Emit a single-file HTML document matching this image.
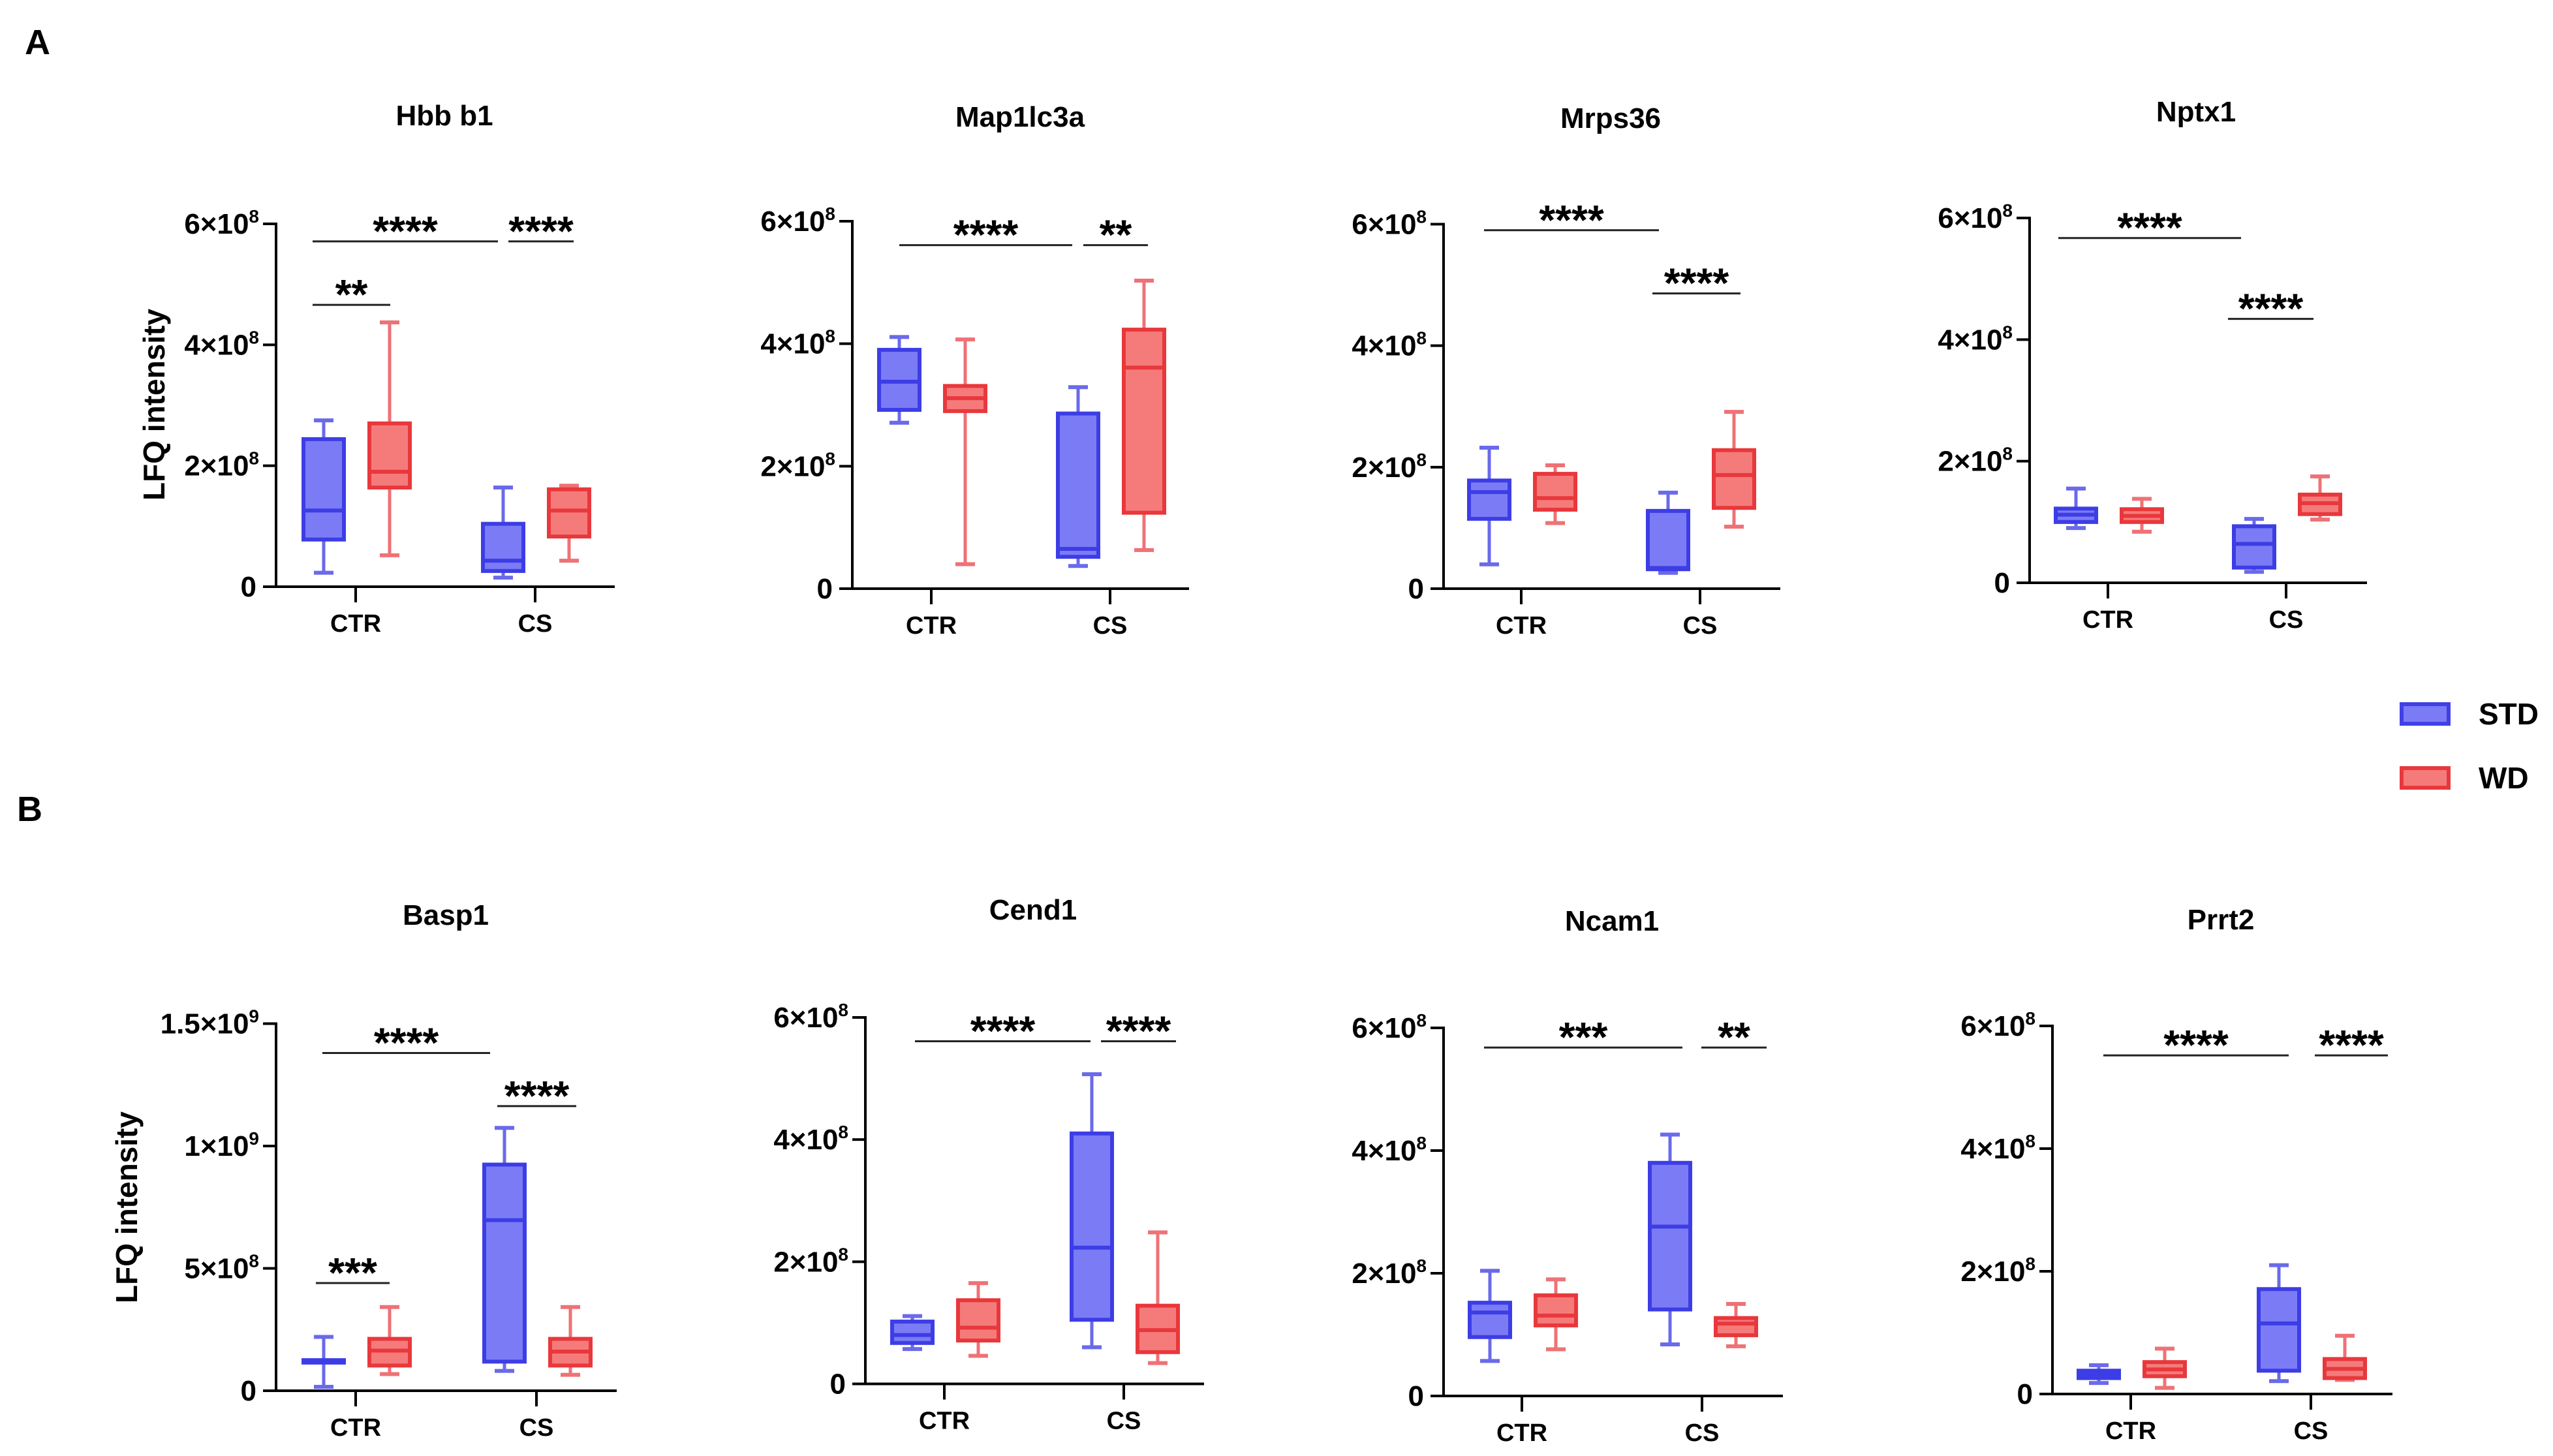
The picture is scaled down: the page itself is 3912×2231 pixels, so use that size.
<!DOCTYPE html>
<html><head><meta charset="utf-8"><style>
html,body{margin:0;padding:0;background:#fff;}
svg{display:block;font-family:"Liberation Sans",Arial,sans-serif;}
</style></head><body>
<svg id="fig" width="3912" height="2231" viewBox="0 0 3912 2231" xmlns="http://www.w3.org/2000/svg">
<rect width="3912" height="2231" fill="#fff"/>
<text x="38" y="83" font-size="54" font-weight="bold">A</text>
<text x="26" y="1258" font-size="54" font-weight="bold">B</text>
<text transform="translate(252,620) rotate(-90)" text-anchor="middle" font-size="46" font-weight="bold">LFQ intensity</text>
<text transform="translate(210,1850) rotate(-90)" text-anchor="middle" font-size="46" font-weight="bold">LFQ intensity</text>
<g>
<rect x="3680" y="1079" width="72" height="30" fill="#7b7bf5" stroke="#4040e6" stroke-width="6"/>
<text x="3798" y="1110" font-size="46" font-weight="bold">STD</text>
<rect x="3680" y="1177" width="72" height="30" fill="#f57b7b" stroke="#e8383c" stroke-width="6"/>
<text x="3798" y="1208" font-size="46" font-weight="bold">WD</text>
</g>
</svg>
<script>
// values in units of 1e8; each box: [min, q1, median, q3, max]; order [CTR, CS]
const categories = ["CTR", "CS"];
const groups = ["STD", "WD"];
const hbbStd = [[0.23,0.78,1.26,2.44,2.75],[0.15,0.26,0.43,1.04,1.64]];
const hbbWd  = [[0.52,1.64,1.90,2.70,4.37],[0.43,0.83,1.26,1.61,1.67]];
const mapStd = [[2.71,2.92,3.38,3.90,4.11],[0.37,0.52,0.65,2.86,3.29]];
const mapWd  = [[0.40,2.90,3.11,3.31,4.07],[0.63,1.24,3.61,4.23,5.03]];
const mrpStd = [[0.40,1.15,1.59,1.78,2.32],[0.26,0.32,0.34,1.28,1.58]];
const mrpWd  = [[1.08,1.30,1.49,1.89,2.03],[1.02,1.33,1.87,2.28,2.91]];
const nptStd = [[0.90,1.00,1.12,1.22,1.55],[0.18,0.25,0.64,0.93,1.05]];
const nptWd  = [[0.84,1.00,1.10,1.21,1.38],[1.04,1.13,1.31,1.45,1.75]];
const baspStd = [[0.16,1.15,1.20,1.25,2.20],[0.81,1.19,6.97,9.24,10.74]];
const baspWd  = [[0.68,1.03,1.64,2.12,3.42],[0.65,1.03,1.60,2.12,3.42]];
const cendStd = [[0.57,0.67,0.80,1.02,1.11],[0.60,1.05,2.23,4.10,5.07]];
const cendWd  = [[0.46,0.71,0.92,1.37,1.65],[0.34,0.52,0.88,1.28,2.48]];
const ncamStd = [[0.57,0.96,1.36,1.52,2.04],[0.84,1.41,2.76,3.80,4.26]];
const ncamWd  = [[0.76,1.15,1.31,1.64,1.90],[0.81,0.99,1.18,1.27,1.50]];
const prrtStd = [[0.18,0.26,0.32,0.38,0.47],[0.21,0.38,1.15,1.71,2.10]];
const prrtWd  = [[0.10,0.29,0.40,0.52,0.74],[0.23,0.26,0.41,0.57,0.95]];
const ticks6 = [0,2,4,6];
const tickLabels6 = [["0",""],["2×10","8"],["4×10","8"],["6×10","8"]];
const ticks15 = [0,5,10,15];
const tickLabels15 = [["0",""],["5×10","8"],["1×10","9"],["1.5×10","9"]];
const sigHeights = {hbb:[5.71,5.71,4.66], map:[5.61,5.61], mrp:[5.9,4.86], npt:[5.67,4.34], basp:[13.8,11.63,4.4], cend:[5.61,5.61], ncam:[5.68,5.68], prrt:[5.52,5.52]};
const sigLabels = {hbb:["****","****","**"], map:["****","**"], mrp:["****","****"], npt:["****","****"], basp:["****","****","***"], cend:["****","****"], ncam:["***","**"], prrt:["****","****"]};

const panels = [
 {id:"hbb",title:"Hbb b1",std:hbbStd,wd:hbbWd,ax:423,yt:343,y0:899,cx:[545,820],xe:942,tx:681,ty:176,max:6,ticks:ticks6,tl:tickLabels6,sx:[[479,763],[779,879],[479,598]]},
 {id:"map",title:"Map1lc3a",std:mapStd,wd:mapWd,ax:1306,yt:339,y0:902,cx:[1427,1701],xe:1822,tx:1563,ty:178,max:6,ticks:ticks6,tl:tickLabels6,sx:[[1378,1643],[1660,1759]]},
 {id:"mrp",title:"Mrps36",std:mrpStd,wd:mrpWd,ax:2212,yt:343.5,y0:902,cx:[2331,2605],xe:2728,tx:2468,ty:180,max:6,ticks:ticks6,tl:tickLabels6,sx:[[2274,2542],[2532,2667]]},
 {id:"npt",title:"Nptx1",std:nptStd,wd:nptWd,ax:3110,yt:334,y0:893,cx:[3230,3503],xe:3627,tx:3365,ty:170,max:6,ticks:ticks6,tl:tickLabels6,sx:[[3154,3434],[3414,3545]]},
 {id:"basp",title:"Basp1",std:baspStd,wd:baspWd,ax:423,yt:1568.5,y0:2131,cx:[545,822],xe:945,tx:683,ty:1401,max:15,ticks:ticks15,tl:tickLabels15,sx:[[494,751],[762,883],[484,597]]},
 {id:"cend",title:"Cend1",std:cendStd,wd:cendWd,ax:1326,yt:1559,y0:2120.5,cx:[1447,1722],xe:1845,tx:1583,ty:1393,max:6,ticks:ticks6,tl:tickLabels6,sx:[[1402,1671],[1687,1802]]},
 {id:"ncam",title:"Ncam1",std:ncamStd,wd:ncamWd,ax:2212,yt:1575,y0:2139,cx:[2332,2608],xe:2732,tx:2470,ty:1410,max:6,ticks:ticks6,tl:tickLabels6,sx:[[2274,2578],[2607,2707]]},
 {id:"prrt",title:"Prrt2",std:prrtStd,wd:prrtWd,ax:3145,yt:1572,y0:2136,cx:[3265,3541],xe:3666,tx:3403,ty:1408,max:6,ticks:ticks6,tl:tickLabels6,sx:[[3223,3507],[3547,3659]]}
];
const NS="http://www.w3.org/2000/svg";
const svg=document.getElementById('fig');
function mk(tag,attrs,parent){const e=document.createElementNS(NS,tag);for(const k in attrs)e.setAttribute(k,attrs[k]);parent.appendChild(e);return e;}
const styles={STD:{fill:"#7b7bf5",stroke:"#3d3de6",wh:"#6a6aea"},WD:{fill:"#f57b7b",stroke:"#e8383c",wh:"#ee7276"}};
panels.forEach(p=>{
  const g=mk('g',{},svg);
  
  
  const y=v=>p.y0-(v/p.max)*(p.y0-p.yt);
  const t=mk('text',{x:p.tx,y:p.ty+16,'text-anchor':'middle','font-size':44,'font-weight':'bold'},g);
  t.textContent=p.title;
  
  
  const ya=mk('line',{x1:p.ax,y1:p.yt-2,x2:p.ax,y2:p.y0+2,stroke:'#000','stroke-width':4},g);
  
  
  const xa=mk('line',{x1:p.ax-20,y1:p.y0,x2:p.xe,y2:p.y0,stroke:'#000','stroke-width':4},g);
  
  
  p.ticks.forEach((v,i)=>{
    const yy=y(v);
    if(i>0) mk('line',{x1:p.ax-20,y1:yy,x2:p.ax,y2:yy,stroke:'#000','stroke-width':4},g);
    const tx=mk('text',{x:p.ax-26,y:yy+15,'text-anchor':'end','font-size':44,'font-weight':'bold'},g);
    
    
    if(p.tl[i][1]){
      const t1=document.createElementNS(NS,'tspan');t1.textContent=p.tl[i][0];tx.appendChild(t1);
      const t2=document.createElementNS(NS,'tspan');t2.setAttribute('dy','-17');t2.setAttribute('font-size','28');t2.textContent=p.tl[i][1];tx.appendChild(t2);
    } else { tx.textContent=p.tl[i][0]; tx.setAttribute('x',p.ax-30); }
  });
  categories.forEach((c,ci)=>{
    const cx=p.cx[ci];
    mk('line',{x1:cx,y1:p.y0,x2:cx,y2:p.y0+24,stroke:'#000','stroke-width':4},g);
    const cl=mk('text',{x:cx,y:p.y0+69,'text-anchor':'middle','font-size':38,'font-weight':'bold'},g);
    cl.textContent=c;
    
    
    groups.forEach((gr,gi)=>{
      const d=(gr==="STD"?p.std:p.wd)[ci];
      const s=styles[gr];
      const bx=cx+(gi===0?-49:52);
      const bg=mk('g',{},g);
      
      
      mk('line',{x1:bx,y1:y(d[0]),x2:bx,y2:y(d[1]),stroke:s.wh,'stroke-width':5},bg);
      mk('line',{x1:bx,y1:y(d[3]),x2:bx,y2:y(d[4]),stroke:s.wh,'stroke-width':5},bg);
      mk('line',{x1:bx-15,y1:y(d[0]),x2:bx+15,y2:y(d[0]),stroke:s.wh,'stroke-width':6},bg);
      mk('line',{x1:bx-15,y1:y(d[4]),x2:bx+15,y2:y(d[4]),stroke:s.wh,'stroke-width':6},bg);
      mk('rect',{x:bx-31,y:y(d[3]),width:62,height:Math.max(2,y(d[1])-y(d[3])),fill:s.fill,stroke:s.stroke,'stroke-width':6},bg);
      mk('line',{x1:bx-31,y1:y(d[2]),x2:bx+31,y2:y(d[2]),stroke:s.stroke,'stroke-width':6},bg);
    });
  });
  const hs=sigHeights[p.id], ls=sigLabels[p.id];
  hs.forEach((h,i)=>{
    const yy=y(h);
    const ln=mk('line',{x1:p.sx[i][0],y1:yy,x2:p.sx[i][1],y2:yy,stroke:'#222','stroke-width':3},g);
    
    
    const st=mk('text',{x:(p.sx[i][0]+p.sx[i][1])/2,y:yy+6,'text-anchor':'middle','font-size':64,'font-weight':'bold'},g);
    st.textContent=ls[i];
    
    
  });
});
</script>
</body></html>
